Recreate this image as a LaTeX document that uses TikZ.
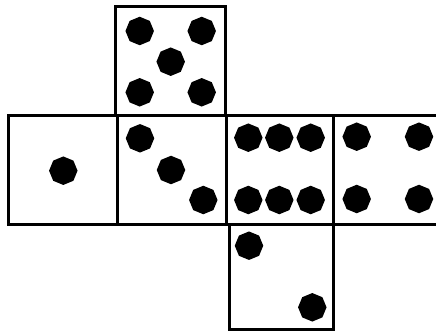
\documentclass[tikz,border=0pt]{standalone}
\usetikzlibrary{shapes.geometric}
\begin{document}
\begin{tikzpicture}[x=1pt,y=-1pt,
  face/.style={draw=black,line width=3pt},
  pip/.style={fill=black,draw=none,regular polygon,regular polygon sides=8,minimum size=28.5pt,inner sep=0pt,shape border rotate=22.5}]
\useasboundingbox (0,0) rectangle (436,331);
\fill[white] (0,0) rectangle (436,331);
\begin{scope}
\clip (0,0) rectangle (436,331);
% faces
\draw[face] (115,7) rectangle (225,116);
\draw[face] (8,116) rectangle (117,224);
\draw[face] (117,116) rectangle (226,224);
\draw[face] (226,116) rectangle (333,224);
\draw[face] (333,116) rectangle (445,224);
\draw[face] (229,224) rectangle (333,329);
\end{scope}
% five
\foreach \p/\x/\y in {a/139.7/31,b/201.7/31,c/170.7/61.7,d/139.7/92.3,e/201.7/92.3}
  \node[pip] (five\p) at (\x,\y) {};
% one
\node[pip] (one) at (63.3,170.7) {};
% three
\foreach \p/\x/\y in {a/140/138.3,b/171/170,c/203.3/200}
  \node[pip] (three\p) at (\x,\y) {};
% six
\foreach \p/\x/\y in {a/248.3/137.7,b/279.3/137.7,c/310.7/137.7,d/248.3/200,e/279.3/200,f/310.7/200}
  \node[pip] (six\p) at (\x,\y) {};
% four
\foreach \p/\x/\y in {a/356.7/136.7,b/419/136.7,c/356.7/199,d/419/199}
  \node[pip] (four\p) at (\x,\y) {};
% two
\node[pip] (twoa) at (249,245.7) {};
\node[pip] (twob) at (312.3,307.3) {};
\end{tikzpicture}
\end{document}
